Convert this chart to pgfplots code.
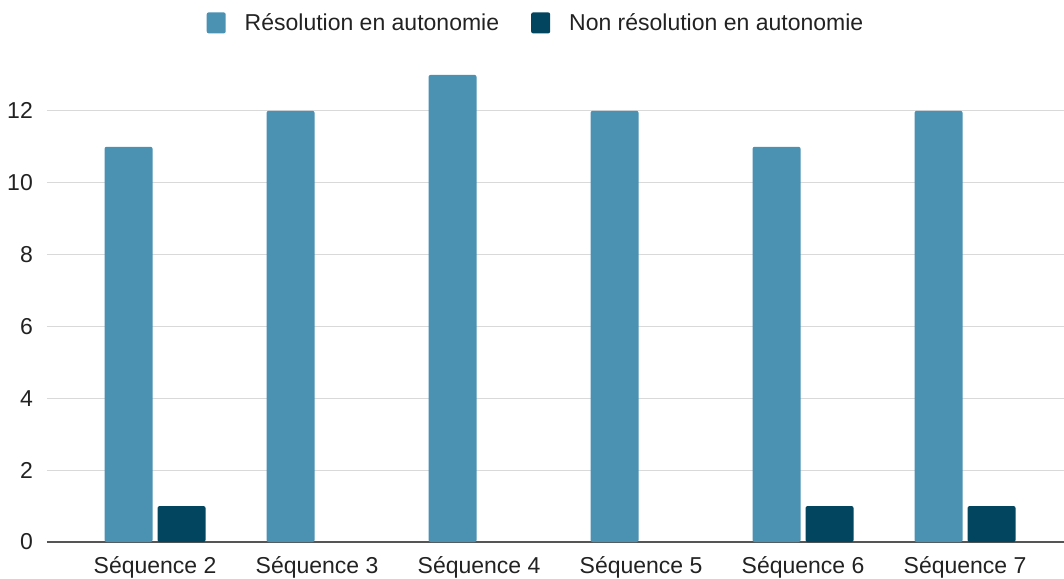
\documentclass[border=0pt]{standalone}
\usepackage{pgfplots}
\pgfplotsset{compat=1.18}
\usepackage{fontspec}
\setmainfont{Liberation Sans}
\definecolor{cA}{HTML}{4A91B2}
\definecolor{cB}{HTML}{01455F}
\definecolor{gridc}{HTML}{D9D9D9}
\definecolor{basec}{HTML}{555555}
\definecolor{txt}{HTML}{222222}
\begin{document}
\begin{tikzpicture}[x=1pt,y=1pt]
\useasboundingbox (0,0) rectangle (1064,578);
\begin{axis}[
  at={(47pt,36pt)}, anchor=south west,
  scale only axis, width=1017pt, height=503pt,
  xmin=-0.667, xmax=5.611, ymin=0, ymax=14,
  axis line style={draw=none},
  major tick length=0pt,
  ytick={2,4,...,12},
  extra y ticks={0},
  extra y tick style={grid style={basec, line width=1.5pt}},
  ymajorgrids, grid style={gridc, line width=1pt},
  xtick={0,...,5},
  xticklabels={Séquence 2,Séquence 3,Séquence 4,Séquence 5,Séquence 6,Séquence 7},
  /pgf/number format/assume math mode=true,
  tick label style={font=\fontsize{23}{27}\selectfont, text=txt},
  yticklabel style={anchor=east, inner sep=0pt, xshift=-14pt},
  xticklabel style={anchor=north, inner sep=0pt, yshift=-14pt},
  legend columns=2,
  legend style={at={(0.4798,1.032)}, anchor=center, draw=none, fill=none,
    font=\fontsize{23}{27}\selectfont, text=txt,
    /tikz/every even column/.append style={column sep=32pt},
    nodes={inner sep=0pt}},
  legend cell align=left,
  legend image code/.code={\fill[#1] (0pt,-10.5pt) rectangle (19pt,10.5pt);},
]
\addplot[ybar, bar width=48pt, bar shift=-26.5pt, fill=cA, draw=none, rounded corners=2pt]
  coordinates {(0,11) (1,12) (2,13) (3,12) (4,11) (5,12)};
\addlegendentry{\hspace{19pt}Résolution en autonomie}
\addplot[ybar, bar width=48pt, bar shift=26.5pt, fill=cB, draw=none, rounded corners=2pt]
  coordinates {(0,1) (4,1) (5,1)};
\addlegendentry{\hspace{19pt}Non résolution en autonomie}
\end{axis}
\end{tikzpicture}
\end{document}
